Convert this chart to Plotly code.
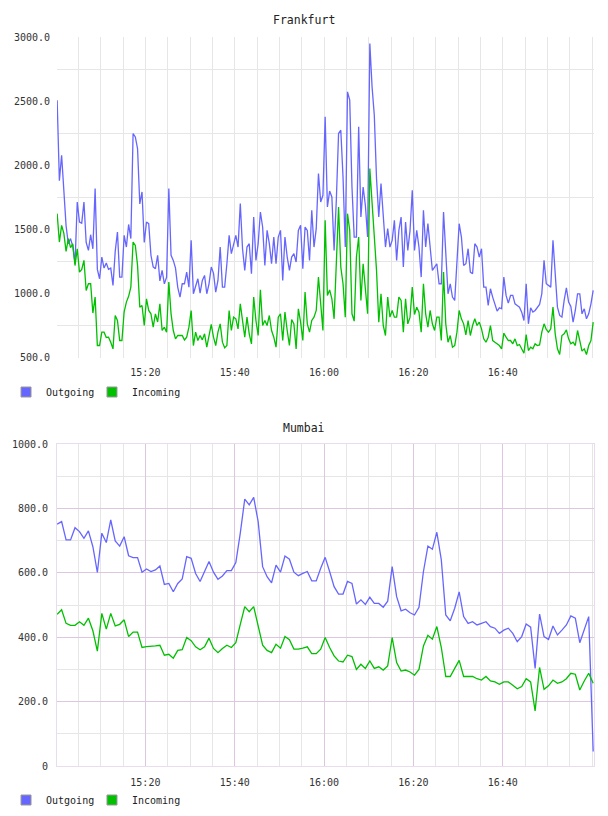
import plotly.graph_objects as go
import pandas as pd

# ---------------- data ----------------
series_names = ["Outgoing", "Incoming"]

frankfurt_out = [
    2508, 1880, 2079, 1780, 1530, 1390, 1430, 1370, 1234, 1715, 1559, 1550, 1715, 1400, 1338, 1460,
    1350, 1819, 1190, 1117, 1286, 1200, 1240, 1190, 1200, 1065, 1330, 1481, 1130, 1130, 1455, 1364,
    1540, 1430, 2248, 2222, 2131, 1700, 1793, 1400, 1559, 1546, 1300, 1210, 1195, 1300, 1100, 1182,
    1078, 1130, 1819, 1300, 1260, 1200, 1050, 974, 1078, 1078, 1169, 1052, 1416, 1000,
    1052, 1117, 1005, 1104, 1143, 1000, 1078, 1208, 1161, 1013, 1104, 1364, 1052, 1052, 1234, 1455,
    1312, 1390, 1455, 1364, 1702, 1351, 1182, 1364, 1390, 1156, 1598, 1260, 1390, 1637, 1520, 1221,
    1494, 1390, 1234, 1442, 1234, 1442, 1494, 1104, 1442, 1286, 1182, 1286, 1312, 1247, 1494, 1533,
    1195, 1520, 1494, 1260, 1650, 1364, 1507, 1936, 1715, 1767, 2378,
    1676, 1800, 1754, 1338, 1728, 2248, 2274, 1910, 1364, 2573, 2508, 1832, 1442, 1442, 2300, 1598,
    1832, 1689, 1442, 2950, 2612, 2391, 1897, 1598, 1858, 1572, 1364, 1507, 1364, 1416, 1572, 1260,
    1494, 1598, 1208, 1559, 1338, 1494, 1806, 1338, 1494, 1364, 1130, 1650, 1364, 1546, 1338, 1182,
    1208, 1234, 1078, 1078, 1637, 1364, 1000, 1078, 974, 948, 1208, 1546, 1442, 1221, 1234,
    1351, 1169, 1156, 1390, 1364, 1286, 1351, 1052, 1052, 909, 1039, 974, 927, 865, 891, 883,
    1130, 987, 927, 987, 987, 922, 909, 896, 857, 792, 1078, 766, 891, 857, 870, 891,
    917, 1000, 1260, 1078, 1065, 1052, 1416, 1182, 896, 831, 818, 948, 1047, 935, 901, 779,
    870, 1000, 1000, 844, 883, 805, 844, 922, 1026,
]

frankfurt_in = [
    1624, 1403, 1533, 1470, 1330, 1429, 1360, 1390, 1220, 1351, 1169, 1190, 1260, 1026, 1078, 1078,
    850, 974, 597, 597, 701, 701, 660, 662, 623, 571, 831, 792, 636, 636, 860, 935,
    980, 1052, 1403, 1377, 1221, 896, 909, 753, 961, 870, 844, 740, 844, 780, 922, 714,
    740, 700, 1091, 844, 714, 649, 675, 675, 675, 640, 662, 740, 870, 597,
    701, 636, 675, 641, 688, 584, 675, 761, 662, 597, 701, 766, 623, 579, 597, 870,
    714, 818, 805, 727, 922, 805, 662, 818, 688, 610, 974, 792, 675, 1031, 753, 792,
    753, 831, 714, 662, 584, 818, 844, 636, 857, 714, 597, 800, 766, 571, 883, 779,
    636, 1013, 766, 701, 792, 818, 870, 1130, 909, 714, 1572,
    987, 1030, 961, 805, 1182, 1676, 1208, 1078, 818, 1624, 1494, 844, 787, 1286, 1442, 948,
    1234, 1026, 844, 1975, 1702, 1494, 1182, 779, 1000, 753, 675, 974, 818, 870, 818, 818,
    974, 948, 701, 961, 766, 818, 1052, 839, 896, 857, 701, 1078, 844, 740, 870, 766,
    714, 818, 818, 636, 1169, 766, 623, 675, 584, 597, 701, 870, 805, 766, 680,
    792, 675, 753, 805, 753, 779, 727, 649, 623, 662, 753, 636, 623, 610, 597, 571,
    693, 662, 636, 636, 610, 649, 597, 605, 571, 537, 683, 558, 584, 571, 610, 597,
    602, 701, 766, 722, 701, 727, 896, 688, 571, 527, 675, 688, 719, 649, 610, 623,
    597, 714, 636, 553, 571, 527, 597, 636, 779,
]

mumbai_out = [
    751, 759, 702, 702, 740, 728, 707, 730, 681, 601, 723, 694, 764, 699, 683, 712,
    653, 647, 647, 602, 612, 604, 609, 621, 564, 567, 541, 567, 581, 650, 645, 598,
    573, 604, 635, 602, 580, 590, 607, 607, 632, 723, 829, 811, 834, 759, 619, 588,
    569, 624, 602, 652, 642, 602, 591,
    598, 604, 575, 575, 614, 648, 604, 557, 534, 534, 573, 567, 503, 516, 502, 524,
    505, 505, 493, 512, 619, 526, 482, 487, 476, 469, 493, 604, 683, 673, 726, 640,
    469, 451, 490, 541, 464, 443, 448, 438, 443, 448, 433, 428, 412, 422, 428, 412,
    386, 402, 441, 431, 303, 472, 402, 393, 435, 407, 422, 438, 466, 459, 383, 422,
    464, 45,
]

mumbai_in = [
    471, 485, 443, 437, 437, 448, 437, 459, 420, 357, 474, 425, 474, 435, 440, 454,
    402, 416, 416, 368, 371, 371, 373, 375, 344, 347, 335, 359, 361, 399, 389, 370,
    361, 370, 397, 365, 352, 365, 375, 368, 383, 440, 495, 479, 495, 435, 375, 359,
    352, 378, 366, 402, 392, 363, 363,
    366, 370, 349, 349, 363, 399, 368, 342, 326, 323, 344, 340, 300, 316, 303, 326,
    303, 308, 298, 311, 399, 321, 295, 298, 292, 282, 300, 373, 406, 394, 433, 368,
    278, 278, 303, 328, 278, 277, 278, 271, 267, 278, 264, 261, 254, 261, 261, 251,
    240, 247, 271, 261, 171, 306, 238, 249, 267, 257, 261, 271, 288, 285, 236, 264,
    288, 257,
]

day = "2024-05-06 "
frankfurt_times = pd.date_range(day + "15:00:15", periods=len(frankfurt_out), freq="30s")
mumbai_times = pd.date_range(day + "15:00:15", periods=len(mumbai_out), freq="1min")

time_ticks = ["15:20", "15:40", "16:00", "16:20", "16:40"]
fra_y_ticks = [500, 1000, 1500, 2000, 2500, 3000]
fra_y_labels = ["500.0", "1000.0", "1500.0", "2000.0", "2500.0", "3000.0"]
fra_y_minor = [750, 1250, 1750, 2250, 2750]
mum_y_ticks = [0, 200, 400, 600, 800, 1000]
mum_y_labels = ["0", "200.0", "400.0", "600.0", "800.0", "1000.0"]
mum_y_minor = [100, 300, 500, 700, 900]

# ---------------- style ----------------
BLUE = "#6666ff"
GREEN = "#00c000"
GRID = "#e6e6e6"
MAJOR = "#dcc6e0"
FRAME = "#eadcef"
FONT = "DejaVu Sans Mono"
x_range = [day + "15:00:13", day + "17:00:26"]

fig = go.Figure()

for times, vals, color, xa, ya in [
    (frankfurt_times, frankfurt_out, BLUE, "x", "y"),
    (frankfurt_times, frankfurt_in, GREEN, "x", "y"),
    (mumbai_times, mumbai_out, BLUE, "x2", "y2"),
    (mumbai_times, mumbai_in, GREEN, "x2", "y2"),
]:
    fig.add_trace(go.Scatter(x=times, y=vals, mode="lines", line=dict(color=color, width=1.3),
                             xaxis=xa, yaxis=ya, showlegend=False, hoverinfo="skip"))

# one small legend per entry so each key sits where the original puts it
legend_ids = [["legend", "legend2"], ["legend3", "legend4"]]
for legs, xa, ya in [(legend_ids[0], "x", "y"), (legend_ids[1], "x2", "y2")]:
    for leg, name, color in zip(legs, series_names, [BLUE, GREEN]):
        fig.add_trace(go.Scatter(x=[None], y=[None], mode="markers", name=name, legend=leg,
                                 xaxis=xa, yaxis=ya,
                                 marker=dict(symbol="square", size=10, color=color,
                                             line=dict(color="#999999", width=1))))

common_x = dict(type="date", range=x_range, tickmode="array",
                tickvals=[day + t for t in time_ticks], ticktext=time_ticks,
                ticks="", ticklabelstandoff=7, zeroline=False, automargin=False,
                tickfont=dict(family=FONT, size=10, color="#333"))

legend_style = dict(orientation="h", xref="container", yref="container",
                    xanchor="left", yanchor="middle",
                    font=dict(family=FONT, size=10, color="#222"),
                    bgcolor="rgba(0,0,0,0)", itemwidth=30)
leg_x = [0.0099, 0.1513]
leg_y = [1 - 392 / 816, 1 - 800 / 816]

fig.update_layout(
    width=608, height=816,
    margin=dict(l=57, r=14, t=37, b=50, autoexpand=False),
    paper_bgcolor="white", plot_bgcolor="white",
    font=dict(family=FONT, size=10, color="#333"),
    xaxis=dict(domain=[0, 1], anchor="y", showgrid=True, gridcolor=GRID, gridwidth=1,
               minor=dict(tickmode="linear", tick0=day + "15:00:00", dtick=300000,
                          showgrid=True, gridcolor=GRID, gridwidth=1),
               showline=False, **common_x),
    yaxis=dict(domain=[0.5597, 1], anchor="x", range=[500, 3000], tickmode="array",
               tickvals=fra_y_ticks, ticktext=fra_y_labels, showgrid=False, zeroline=False,
               ticks="", ticklabelstandoff=6, automargin=False,
               minor=dict(tickmode="array", tickvals=fra_y_minor, showgrid=True,
                          gridcolor=GRID, gridwidth=1),
               tickfont=dict(family=FONT, size=10, color="#333")),
    xaxis2=dict(domain=[0, 1], anchor="y2", showgrid=True, gridcolor=MAJOR, gridwidth=1,
                minor=dict(tickmode="linear", tick0=day + "15:00:00", dtick=300000,
                           showgrid=True, gridcolor=GRID, gridwidth=1),
                showline=True, mirror=True, linecolor=FRAME, linewidth=1, **common_x),
    yaxis2=dict(domain=[0, 0.4417], anchor="x2", range=[0, 1000], tickmode="array",
                tickvals=mum_y_ticks, ticktext=mum_y_labels, showgrid=True, gridcolor=MAJOR,
                zeroline=False, ticks="", ticklabelstandoff=6, automargin=False,
                showline=True, mirror=True, linecolor=FRAME, linewidth=1,
                minor=dict(tickmode="array", tickvals=mum_y_minor, showgrid=True,
                           gridcolor=GRID, gridwidth=1),
                tickfont=dict(family=FONT, size=10, color="#333")),
    legend=dict(x=leg_x[0], y=leg_y[0], **legend_style),
    legend2=dict(x=leg_x[1], y=leg_y[0], **legend_style),
    legend3=dict(x=leg_x[0], y=leg_y[1], **legend_style),
    legend4=dict(x=leg_x[1], y=leg_y[1], **legend_style),
    annotations=[
        dict(text="Frankfurt", xref="paper", yref="paper", x=0.46, y=1.0233,
             xanchor="center", yanchor="middle", showarrow=False,
             font=dict(family=FONT, size=11.5, color="#222")),
        dict(text="Mumbai", xref="paper", yref="paper", x=0.46, y=0.4636,
             xanchor="center", yanchor="middle", showarrow=False,
             font=dict(family=FONT, size=11.5, color="#222")),
    ],
)

fig.write_html("out.html")
